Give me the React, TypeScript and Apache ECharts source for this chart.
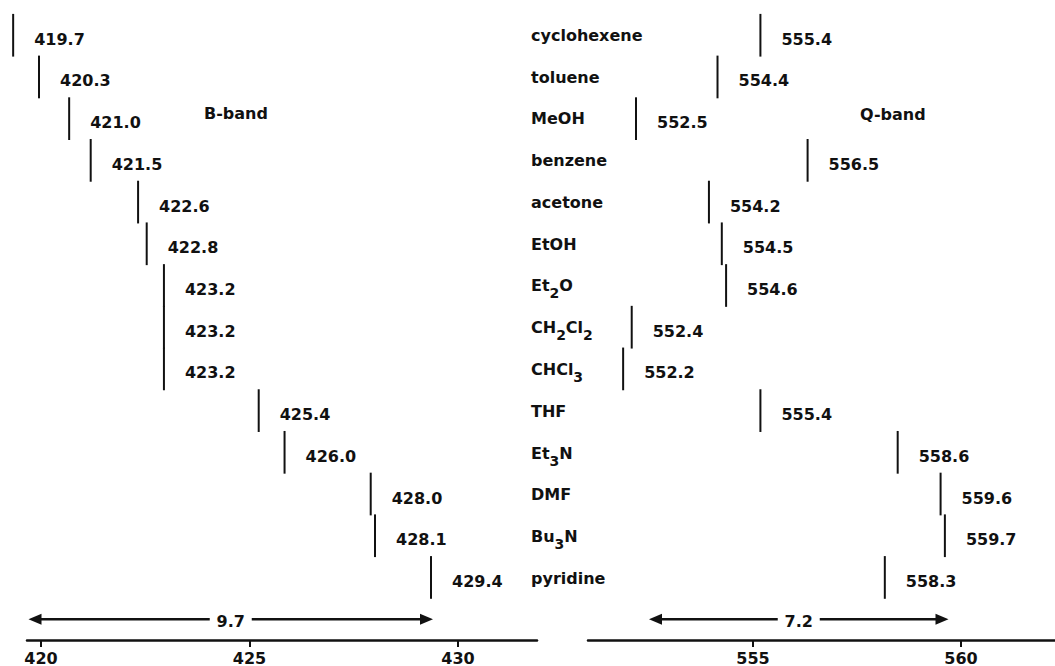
import React, { useEffect, useRef } from "react";
import * as echarts from "echarts";

// Solvents, top to bottom
const solvents = [
  "cyclohexene",
  "toluene",
  "MeOH",
  "benzene",
  "acetone",
  "EtOH",
  "Et2O",
  "CH2Cl2",
  "CHCl3",
  "THF",
  "Et3N",
  "DMF",
  "Bu3N",
  "pyridine",
];

// Band maxima (nm) for each solvent
const bBand = [419.7, 420.3, 421.0, 421.5, 422.6, 422.8, 423.2, 423.2, 423.2, 425.4, 426.0, 428.0, 428.1, 429.4];
const qBand = [555.4, 554.4, 552.5, 556.5, 554.2, 554.5, 554.6, 552.4, 552.2, 555.4, 558.6, 559.6, 559.7, 558.3];

// Axis tick labels
const bTicks = [420, 425, 430];
const qTicks = [555, 560];

// Overall spread of each band (lowest to highest maximum)
const bSpan = [419.7, 429.4];
const qSpan = [552.5, 559.7];

const INK = "#111111";
const FONT = "DejaVu Sans";
const GRID_TOP = 14.4;
const GRID_H = 626.6;
const ARROW_ROW = 14;

const textBase = { fill: INK, fontFamily: FONT, fontWeight: "bold", fontSize: 16 };

// Turn "CH2Cl2" into rich text with subscripted digits
const richName = (name: string) =>
  name.replace(/([A-Za-z]+)|(\d+)/g, (m: string, a: string) => (a ? `{n|${m}}` : `{s|${m}}`));

const renderMark = (_params: any, api: any) => {
  const v = api.value(0);
  const row = api.value(1);
  const p = api.coord([v, row]);
  const h = api.size([0, 1])[1];
  return {
    type: "group",
    children: [
      {
        type: "line",
        shape: { x1: p[0], y1: p[1] - h / 2 - 0.5, x2: p[0], y2: p[1] + h / 2 + 0.5 },
        style: { stroke: INK, lineWidth: 2 },
      },
      {
        type: "text",
        x: p[0] + 21,
        y: p[1] + 4,
        style: { ...textBase, text: Number(v).toFixed(1), align: "left", verticalAlign: "middle" },
      },
    ],
  };
};

const renderSpan = (_params: any, api: any) => {
  const lo = api.value(0);
  const hi = api.value(1);
  const a = api.coord([lo, ARROW_ROW]);
  const b = api.coord([hi, ARROW_ROW]);
  const y = a[1];
  const mid = (a[0] + b[0]) / 2;
  const head = 13;
  const half = 5.5;
  const gap = 21;
  const line = { stroke: INK, lineWidth: 2.5 };
  return {
    type: "group",
    children: [
      { type: "line", shape: { x1: a[0] + head - 1, y1: y, x2: mid - gap, y2: y }, style: line },
      { type: "line", shape: { x1: mid + gap, y1: y, x2: b[0] - head + 1, y2: y }, style: line },
      {
        type: "polygon",
        shape: { points: [[a[0], y], [a[0] + head, y - half], [a[0] + head, y + half]] },
        style: { fill: INK },
      },
      {
        type: "polygon",
        shape: { points: [[b[0], y], [b[0] - head, y - half], [b[0] - head, y + half]] },
        style: { fill: INK },
      },
      {
        type: "text",
        x: mid,
        y: y + 2,
        style: { ...textBase, text: (hi - lo).toFixed(1), align: "center", verticalAlign: "middle" },
      },
    ],
  };
};

const scaleAxis = (gridIndex: number, min: number, max: number, ticks: number[]) => ({
  type: "value",
  gridIndex,
  min,
  max,
  position: "bottom",
  axisLine: { show: true, onZero: false, lineStyle: { color: INK, width: 2.5 } },
  axisTick: { show: true, customValues: ticks, length: 7, lineStyle: { color: INK, width: 2 } },
  axisLabel: {
    customValues: ticks,
    color: INK,
    fontFamily: FONT,
    fontWeight: "bold",
    fontSize: 16,
    margin: 10,
  },
  splitLine: { show: false },
});

const App: React.FC = () => {
  const ref = useRef<HTMLDivElement>(null);

  useEffect(() => {
    if (!ref.current) return;
    const chart = echarts.init(ref.current, null, { renderer: "svg" });
    chart.setOption({
      animation: false,
      backgroundColor: "#ffffff",
      grid: [
        { left: 27, top: GRID_TOP, width: 510, height: GRID_H },
        { left: 588, top: GRID_TOP, width: 467, height: GRID_H },
        { left: 529, top: GRID_TOP, width: 1, height: GRID_H },
      ],
      xAxis: [
        scaleAxis(0, 419.664, 431.894, bTicks),
        { type: "value", gridIndex: 0, min: 420.0214, max: 431.86, show: false },
        scaleAxis(1, 551.034, 562.26, qTicks),
        { type: "value", gridIndex: 1, min: 551.381, max: 562.267, show: false },
        { type: "value", gridIndex: 2, min: 0, max: 1, show: false },
      ],
      yAxis: [
        { type: "value", gridIndex: 0, min: -0.5, max: 14.5, inverse: true, show: false },
        { type: "value", gridIndex: 1, min: -0.5, max: 14.5, inverse: true, show: false },
        {
          type: "category",
          gridIndex: 2,
          data: [...solvents, ""],
          inverse: true,
          position: "right",
          axisLine: { show: false },
          axisTick: { show: false },
          splitLine: { show: false },
          axisLabel: {
            interval: 0,
            margin: 1,
            formatter: (value: string) => (value ? richName(value) : ""),
            rich: {
              n: { color: INK, fontFamily: FONT, fontWeight: "bold", fontSize: 16 },
              s: { color: INK, fontFamily: FONT, fontWeight: "bold", fontSize: 14, padding: [15, 0, 0, 0] },
            },
          },
        },
      ],
      graphic: [
        { type: "text", x: 204, y: 113, style: { ...textBase, text: "B-band", verticalAlign: "middle" } },
        { type: "text", x: 860, y: 114, style: { ...textBase, text: "Q-band", verticalAlign: "middle" } },
      ],
      series: [
        {
          type: "custom",
          name: "B-band",
          xAxisIndex: 1,
          yAxisIndex: 0,
          data: bBand.map((v, i) => [v, i]),
          renderItem: renderMark,
        },
        {
          type: "custom",
          name: "Q-band",
          xAxisIndex: 3,
          yAxisIndex: 1,
          data: qBand.map((v, i) => [v, i]),
          renderItem: renderMark,
        },
        { type: "custom", xAxisIndex: 0, yAxisIndex: 0, data: [bSpan], renderItem: renderSpan },
        { type: "custom", xAxisIndex: 2, yAxisIndex: 1, data: [qSpan], renderItem: renderSpan },
      ],
    });
    return () => chart.dispose();
  }, []);

  return (
    <div
      ref={ref}
      style={{ position: "fixed", left: 0, top: 0, width: 1055, height: 666, background: "#ffffff" }}
    />
  );
};

export default App;
